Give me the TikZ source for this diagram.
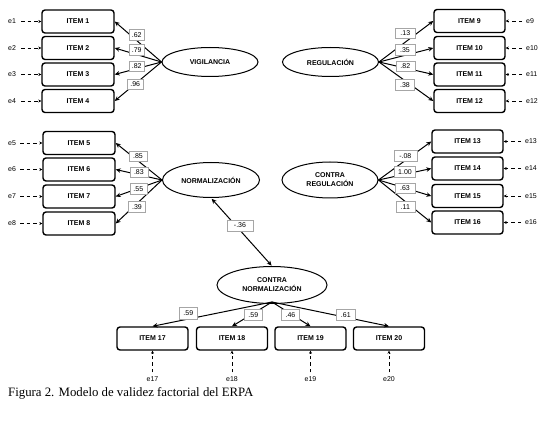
\documentclass[tikz,border=0pt]{standalone}
\usepackage{fontspec}
\setmainfont{Liberation Serif}
\setsansfont{Liberation Sans}
\usetikzlibrary{shapes.geometric,arrows.meta}
\begin{document}
\begin{tikzpicture}[x=1pt,y=-1pt,
  itembox/.style={draw,line width=1.4pt,rounded corners=3pt,minimum width=71pt,minimum height=23pt,inner sep=0pt,font=\sffamily\bfseries\fontsize{7}{8}\selectfont},
  factor/.style={draw,ellipse,line width=1pt,inner sep=0pt,align=center,font=\sffamily\bfseries\fontsize{7}{9}\selectfont},
  coef/.style={draw=gray!70,fill=white,line width=0.6pt,minimum height=10.5pt,inner sep=1pt,font=\sffamily\fontsize{7}{8}\selectfont},
  elab/.style={inner sep=1pt,font=\sffamily\fontsize{7}{8}\selectfont},
  load/.style={line width=1pt,-{Stealth[length=5pt,width=4.5pt]}},
  errarr/.style={line width=0.9pt,dash pattern=on 3.5pt off 3pt,-{Stealth[length=3pt,width=3pt]}},
  cov/.style={line width=1pt,{Stealth[length=5pt,width=4.5pt]}-{Stealth[length=5pt,width=4.5pt]}}
]
\useasboundingbox (0,0) rectangle (544,425);
\fill[white] (0,0) rectangle (544,425);

% ---------- factors
\node[factor,minimum width=96pt,minimum height=29pt] (vig) at (210,62) {VIGILANCIA};
\node[factor,minimum width=96pt,minimum height=29pt] (reg) at (330.5,62) {REGULACIÓN};
\node[factor,minimum width=97pt,minimum height=35pt] (nor) at (211,180) {NORMALIZACIÓN};
\node[factor,minimum width=96pt,minimum height=36pt] (creg) at (330,180) {CONTRA\\REGULACIÓN};
\node[factor,minimum width=110pt,minimum height=37pt] (cnor) at (272,285) {CONTRA\\NORMALIZACIÓN};

% ---------- items left top
\node[itembox,minimum width=72pt] (i1) at (78,21.5) {ITEM 1};
\node[itembox,minimum width=72pt] (i2) at (78,48) {ITEM 2};
\node[itembox,minimum width=72pt] (i3) at (78,74.5) {ITEM 3};
\node[itembox,minimum width=72pt] (i4) at (78,101) {ITEM 4};
% items left middle
\node[itembox,minimum width=72pt] (i5) at (79,143) {ITEM 5};
\node[itembox,minimum width=72pt] (i6) at (79,169.5) {ITEM 6};
\node[itembox,minimum width=72pt] (i7) at (79,196.5) {ITEM 7};
\node[itembox,minimum width=72pt] (i8) at (79,223.5) {ITEM 8};
% items right top
\node[itembox] (i9) at (469.5,21) {ITEM 9};
\node[itembox] (i10) at (469.5,48) {ITEM 10};
\node[itembox] (i11) at (469.5,74.5) {ITEM 11};
\node[itembox] (i12) at (469.5,101) {ITEM 12};
% items right middle
\node[itembox] (i13) at (467.5,141.5) {ITEM 13};
\node[itembox] (i14) at (467.5,168.5) {ITEM 14};
\node[itembox] (i15) at (467.5,196) {ITEM 15};
\node[itembox] (i16) at (467.5,222.5) {ITEM 16};
% items bottom
\node[itembox] (i17) at (152.5,338.5) {ITEM 17};
\node[itembox] (i18) at (232,338.5) {ITEM 18};
\node[itembox] (i19) at (310.5,338.5) {ITEM 19};
\node[itembox] (i20) at (389,338.5) {ITEM 20};

% ---------- loadings
\foreach \i in {1,2,3,4} {\draw[load] (vig.west) -- (i\i.east);}
\foreach \i in {5,6,7,8} {\draw[load] (nor.west) -- (i\i.east);}
\foreach \i in {9,10,11,12} {\draw[load] (reg.east) -- (i\i.west);}
\foreach \i in {13,14,15,16} {\draw[load] (creg.east) -- (i\i.west);}
\coordinate (cb) at (272,302);
\foreach \i in {17,18,19,20} {\draw[load] (cb) -- (i\i.north);}
\draw[cov,shorten <=1pt,shorten >=0.5pt] (nor.south) -- (cnor.north);

% ---------- coefficient labels
\node[coef,minimum width=15.5pt] (c1) at (136.7,34.7) {.62};
\node[coef,minimum width=15.5pt] (c2) at (136.7,50) {.79};
\node[coef,minimum width=15.5pt] (c3) at (136.7,66.3) {.82};
\node[coef,minimum width=15.5pt] (c4) at (135.2,84.2) {.96};

\node[coef,minimum width=18pt] (c5) at (138,156.3) {.85};
\node[coef,minimum width=18pt] (c6) at (138.9,172.2) {.83};
\node[coef,minimum width=17pt] (c7) at (138.3,188.8) {.55};
\node[coef,minimum width=17pt] (c8) at (137,206.7) {.39};

\node[coef,minimum width=20pt] (c9) at (405.3,33.3) {.13};
\node[coef,minimum width=20pt] (c10) at (405,49.7) {.35};
\node[coef,minimum width=19pt] (c11) at (405.3,66.3) {.82};
\node[coef,minimum width=19pt] (c12) at (405,84.8) {.38};

\node[coef,minimum width=23pt] (c13) at (405.3,156) {-.08};
\node[coef,minimum width=21pt] (c14) at (405,172) {1.00};
\node[coef,minimum width=20pt] (c15) at (405,188.3) {.63};
\node[coef,minimum width=19pt] (c16) at (405.3,207) {.11};

\node[coef,minimum width=18pt,minimum height=12pt] (c17) at (188.3,313.3) {.59};
\node[coef,minimum width=18.5pt] (c18) at (253.3,315) {.59};
\node[coef,minimum width=17.5pt] (c19) at (290.5,315) {.46};
\node[coef,minimum width=18.5pt] (c20) at (345.8,315) {.61};

\node[coef,minimum width=26pt,minimum height=11pt] (ccov) at (240,225.5) {-.36};

% ---------- error terms
\foreach \i/\y in {1/21.5,2/48,3/74.5,4/101} {
  \node[elab,anchor=west] (e\i) at (7,\y) {e\i};
  \draw[errarr,shorten <=4pt] (e\i.east) -- (i\i.west);
}
\foreach \i/\y in {5/143,6/169.5,7/196.5,8/223.5} {
  \node[elab,anchor=west] (e\i) at (7,\y) {e\i};
  \draw[errarr,shorten <=3pt] (e\i.east) -- (i\i.west);
}
\foreach \i/\y in {9/21,10/48,11/74.5,12/101} {
  \node[elab,anchor=west] (e\i) at (525,\y) {e\i};
  \draw[errarr,shorten <=3pt] (e\i.west) -- (i\i.east);
}
\foreach \i/\y in {13/141.5,14/168.5,15/196,16/222.5} {
  \node[elab,anchor=west] (e\i) at (524,\y) {e\i};
  \draw[errarr,shorten <=3pt] (e\i.west) -- (i\i.east);
}
\foreach \i/\x in {17/152.5,18/232,19/310.5,20/389} {
  \node[elab] (e\i) at (\x,379) {e\i};
  \draw[errarr,shorten <=3pt] (e\i.north) -- (i\i.south);
}

% ---------- caption
\node[anchor=base west,inner sep=0pt,font=\fontsize{12.8}{14}\selectfont] (cap) at (8,396) {Figura 2. Modelo de validez factorial del ERPA};
\end{tikzpicture}
\end{document}
